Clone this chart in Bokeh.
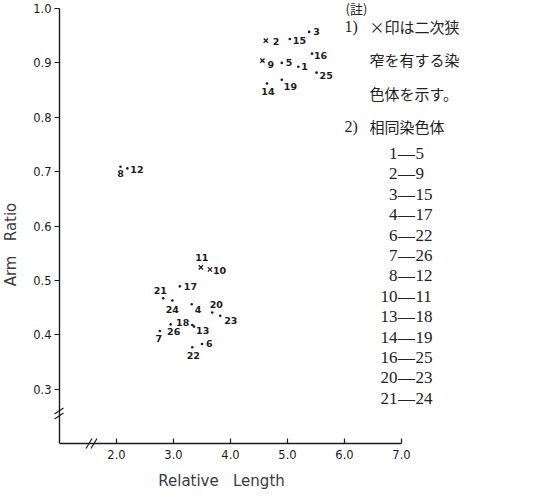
import math
from bokeh.plotting import figure
from bokeh.models import (Range1d, FixedTicker, Label, ColumnDataSource, Arrow,
                          NumeralTickFormatter)
from bokeh.embed import file_html
from bokeh.resources import INLINE
from bokeh.core.properties import value

# ---------------- data ----------------
chrom = [str(i) for i in range(1, 27)]
rel_length = [5.19, 4.62, 5.38, 3.32, 4.90, 3.50, 2.76, 2.07, 4.56, 3.64,
              3.48, 2.19, 3.36, 4.64, 5.04, 5.43, 3.11, 3.33, 4.90, 3.68,
              2.82, 3.33, 3.82, 2.98, 5.51, 2.95]
arm_ratio = [0.893, 0.941, 0.957, 0.456, 0.900, 0.383, 0.407, 0.709, 0.904, 0.520,
             0.524, 0.706, 0.415, 0.862, 0.944, 0.917, 0.489, 0.418, 0.869, 0.441,
             0.467, 0.377, 0.435, 0.463, 0.882, 0.419]
sec_constriction = ["2", "9", "10", "11"]   # marked with x
x_ticks = [2.0, 3.0, 4.0, 5.0, 6.0, 7.0]
y_ticks = [0.3, 0.4, 0.5, 0.6, 0.7, 0.8, 0.9, 1.0]
pair_left = ["1", "2", "3", "4", "6", "7", "8", "10", "13", "14", "16", "20", "21"]
pair_right = ["5", "9", "15", "17", "22", "26", "12", "11", "18", "19", "25", "23", "24"]
note_title = "(註)"
note1 = ["×印は二次狭", "窄を有する染", "色体を示す。"]
note2 = "相同染色体"
x_label = "Relative\u00a0\u00a0\u00a0Length"
y_label = "Arm\u00a0\u00a0\u00a0Ratio"

# ---------------- label placement (style, screen px) ----------------
lab_style = {
    "1": (3, 0, "left"), "2": (7, 1, "left"), "3": (4, 0, "left"),
    "4": (3, 5, "left"), "5": (4, 0, "left"), "6": (4, 0, "left"),
    "7": (-1, 8, "center"), "8": (0, 7, "center"), "9": (5, 4, "left"),
    "10": (3, 1, "left"), "11": (1, -10, "center"), "12": (3, 1, "left"),
    "13": (2, 4, "left"), "14": (1, 8, "center"), "15": (3, 2, "left"),
    "16": (2, 2, "left"), "17": (4, 0, "left"), "18": (-3, -2, "right"),
    "19": (2, 7, "left"), "20": (4, -8, "center"), "21": (-3, -8, "center"),
    "22": (1, 8, "center"), "23": (4, 5, "left"), "24": (0, 9, "center"),
    "25": (3, 3, "left"), "26": (3, 7, "center"),
}

# ---------------- layout ----------------
W, H = 528, 490            # canvas (page offset 8 px)
AX_L, AX_T = 59, 8         # canvas px of data (1.0, 1.0)
SX, SY = 57.0, 543.75      # px per data unit
X0, Y0 = 1.0, 0.2          # axis origin (data)
x_start = 1.0 - AX_L / SX
x_end = x_start + W / SX
y_end = 1.0 + AX_T / SY
y_start = y_end - H / SY


def px_x(X):  # page pixel -> data x
    return x_start + (X - 8) / SX


def px_y(Y):  # page pixel -> data y
    return y_end - (Y - 8) / SY


p = figure(width=W, height=H, output_backend="svg", toolbar_location=None,
           x_range=Range1d(x_start, x_end), y_range=Range1d(y_start, y_end),
           min_border=0)
p.outline_line_color = None
p.grid.visible = False
p.background_fill_color = "white"

ink = "#1a1a1a"
for ax in (p.xaxis[0], p.yaxis[0]):
    ax.axis_line_color = ink
    ax.axis_line_width = 1.4
    ax.major_tick_line_color = ink
    ax.major_tick_line_width = 1.2
    ax.minor_tick_line_color = None
    ax.major_label_text_font = "DejaVu Sans"
    ax.major_label_text_font_size = "11.5px"
    ax.major_label_text_color = ink
    ax.formatter = NumeralTickFormatter(format="0.0")

p.xaxis.fixed_location = Y0
p.xaxis.bounds = (X0, 7.0)
p.xaxis.ticker = FixedTicker(ticks=x_ticks)
p.xaxis.major_tick_in = 5
p.xaxis.major_tick_out = 0
p.xaxis.major_label_standoff = 6
p.yaxis.fixed_location = X0
p.yaxis.bounds = (Y0, 1.0)
p.yaxis.ticker = FixedTicker(ticks=y_ticks)
p.yaxis.major_tick_in = 0
p.yaxis.major_tick_out = 5
p.yaxis.major_label_standoff = 3

# ---------------- points ----------------
is_x = [c in sec_constriction for c in chrom]
dots = ColumnDataSource(dict(
    x=[v for v, f in zip(rel_length, is_x) if not f],
    y=[v for v, f in zip(arm_ratio, is_x) if not f]))
crosses = ColumnDataSource(dict(
    x=[v for v, f in zip(rel_length, is_x) if f],
    y=[v for v, f in zip(arm_ratio, is_x) if f]))
p.scatter("x", "y", source=dots, marker="circle", size=2.6,
          fill_color=ink, line_color=None)
p.scatter("x", "y", source=crosses, marker="x", size=6,
          line_color=ink, line_width=1.3)

labs = ColumnDataSource(dict(
    x=rel_length, y=arm_ratio, text=chrom,
    dx=[lab_style[c][0] for c in chrom],
    dy=[lab_style[c][1] for c in chrom],
    align=[lab_style[c][2] for c in chrom]))
p.text("x", "y", text="text", source=labs, x_offset="dx", y_offset="dy",
       text_align="align", text_baseline="middle",
       text_font=value("DejaVu Sans"), text_font_size="9.5px",
       text_font_style="bold", text_color=ink)

# ---------------- axis breaks ----------------
yb = px_y(421)
for off in (-2.5, 2.5):
    p.add_layout(Arrow(end=None, x_start=px_x(62), y_start=yb - (off + 3) / SY,
                       x_end=px_x(71), y_end=yb - (off - 3) / SY,
                       line_color=ink, line_width=1.2))
xb = px_x(99)
for off in (-2.5, 2.5):
    p.add_layout(Arrow(end=None, x_start=xb + (off - 3) / SX, y_start=px_y(456),
                       x_end=xb + (off + 3) / SX, y_end=px_y(446),
                       line_color=ink, line_width=1.2))

# ---------------- axis titles ----------------
p.add_layout(Label(x=px_x(229), y=px_y(488), text=x_label, text_align="center",
                   text_baseline="middle", text_font="DejaVu Sans",
                   text_font_size="15px", text_color="#3a3a3a"))
p.add_layout(Label(x=px_x(18), y=px_y(252), text=y_label, text_align="center",
                   text_baseline="middle", angle=math.pi / 2,
                   text_font="DejaVu Sans", text_font_size="15px",
                   text_color="#3a3a3a"))

# ---------------- notes ----------------
jp = "Noto Sans CJK JP"
serif = "Liberation Serif"


def note(X, Y, txt, font, size, align="left"):
    p.add_layout(Label(x=px_x(X), y=px_y(Y), text=txt, text_align=align,
                       text_baseline="middle", text_font=font,
                       text_font_size=size, text_color="#222222"))


note(353, 16, note_title, jp, "13px")
note(352, 34, "1)", serif, "16px")
note(377, 34, note1[0], jp, "15px")
note(377, 67, note1[1], jp, "15px")
note(377, 101, note1[2], jp, "15px")
note(352, 134, "2)", serif, "16px")
note(377, 134, note2, jp, "15px")
for i, (a, b) in enumerate(zip(pair_left, pair_right)):
    yy = 161 + i * 20.4
    note(405, yy, a, serif, "17px", "right")
    note(414, yy, "—", serif, "17px", "center")
    note(423, yy, b, serif, "17px", "left")

open("out.html", "w").write(file_html(p, INLINE))
